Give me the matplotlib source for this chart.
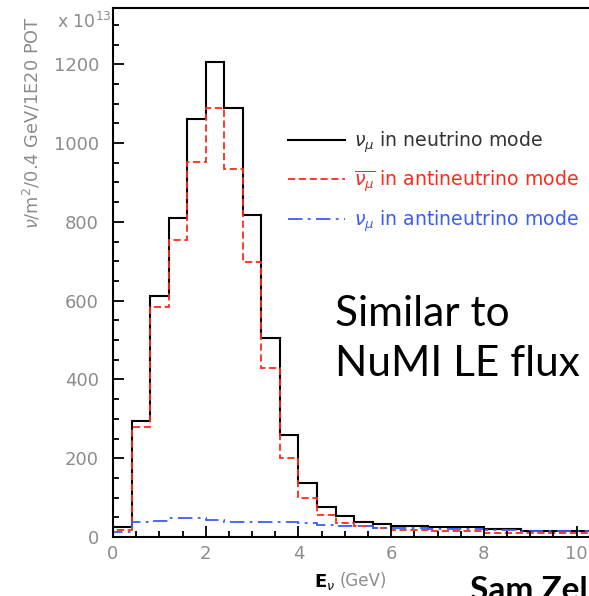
import numpy as np
import matplotlib.pyplot as plt
from matplotlib.ticker import MultipleLocator

# flux histograms, 0.4 GeV bins starting at 0 (units of 1e13 nu/m^2/0.4GeV/1E20 POT)
bin_width = 0.4
numu_nu_mode = [25, 295, 612, 809, 1061, 1207, 1089, 817, 506, 258, 137, 76, 54,
                39, 34, 29, 29, 26, 26, 26, 20, 20, 15, 15, 15, 14, 14]
numubar_anti_mode = [19, 280, 583, 754, 951, 1088, 934, 698, 428, 201, 100, 57, 36,
                     27, 23, 17, 17, 14, 14, 14, 10, 10, 11, 11, 10, 9, 9]
numu_anti_mode = [13, 37, 41, 47, 47, 42, 37, 37, 37, 37, 36, 30, 28,
                  28, 24, 22, 22, 20, 20, 20, 18, 18, 15, 15, 15, 14, 14]
edges = np.arange(len(numu_nu_mode) + 1) * bin_width

x_ticks = [0, 2, 4, 6, 8, 10]
y_ticks = [0, 200, 400, 600, 800, 1000, 1200]

gray = "#8c8c8c"
red = "#ff2a1a"
blue = "#3a5cff"

fig = plt.figure(figsize=(5.89, 5.96), dpi=100)
W, H = 589, 596
# axes runs off the right edge of the picture (cropped slide)
ax = fig.add_axes([113 / W, 59 / H, 510 / W, 529 / H])

ax.stairs(numu_nu_mode, edges, color="black", lw=1.5, label=r"$\nu_\mu$ in neutrino mode")
ax.stairs(numubar_anti_mode, edges, color=red, lw=1.3, linestyle=(0, (4, 2)),
          label=r"$\overline{\nu_\mu}$ in antineutrino mode")
ax.stairs(numu_anti_mode, edges, color=blue, lw=1.3, linestyle=(0, (8, 3, 1.5, 3)),
          label=r"$\nu_\mu$ in antineutrino mode")

ax.set_xlim(0, 11)
ax.set_ylim(0, 1343)
ax.set_xticks(x_ticks)
ax.set_yticks(y_ticks)
ax.xaxis.set_minor_locator(MultipleLocator(0.5))
ax.yaxis.set_minor_locator(MultipleLocator(50))
ax.tick_params(which="both", direction="in", width=1.3, color="black",
               labelcolor=gray, labelsize=13)
ax.tick_params(which="major", length=8)
ax.tick_params(which="minor", length=4.5)
ax.tick_params(axis="y", pad=10)
ax.tick_params(axis="x", pad=6)
for s in ax.spines.values():
    s.set_linewidth(1.5)
ax.spines["right"].set_visible(False)

leg = fig.legend(loc="upper left", bbox_to_anchor=(288 / W, (H - 129) / H),
                 frameon=False, fontsize=13.6, handlelength=3.0, handletextpad=0.5,
                 labelspacing=0.75, borderpad=0, borderaxespad=0,
                 labelcolor=["#333333", red, blue])

fig.text(32 / W, (H - 123) / H, r"$\nu$/m$^2$/0.4 GeV/1E20 POT", rotation=90,
         ha="center", va="center", color=gray, fontsize=12.8)
fig.text(112 / W, (H - 22) / H, r"x 10$^{13}$", ha="right", va="center",
         color=gray, fontsize=12.5)

fig.text(314 / W, (H - 582) / H, r"$\mathbf{E}_{\nu}$", ha="left", va="center",
         color="black", fontsize=13)
fig.text(340 / W, (H - 581) / H, "(GeV)", ha="left", va="center",
         color=gray, fontsize=12)

fig.text(335 / W, (H - 339) / H, "Similar to\nNuMI LE flux", ha="left", va="center",
         fontsize=30.5, family="Lato", linespacing=1.4)
fig.text(470 / W, (H - 576) / H, "Sam Zeller", ha="left", va="top",
         fontsize=24, family="Lato", fontweight="bold")

plt.savefig("out.png", dpi=100)
